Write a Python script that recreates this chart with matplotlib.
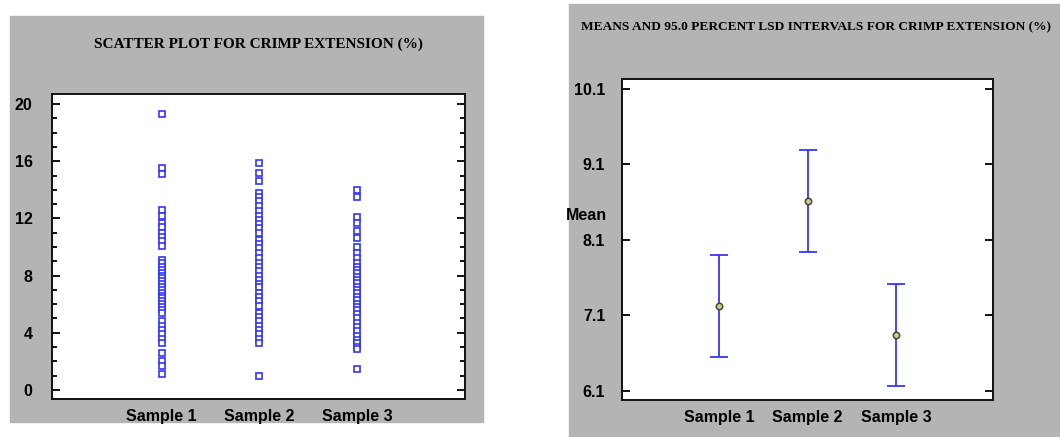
import matplotlib
matplotlib.use("Agg")
import matplotlib.pyplot as plt
from matplotlib.patches import Rectangle

# ------------------------------------------------------------------
# Data
# ------------------------------------------------------------------
SAMPLES = ["Sample 1", "Sample 2", "Sample 3"]

SAMPLE1 = [19.3, 15.5, 15.1, 12.6, 12.2, 11.7, 11.4, 11.0, 10.7, 10.4, 10.1,
           9.1, 8.9, 8.6, 8.4, 8.2, 8.0, 7.8, 7.6, 7.4, 7.2, 7.0, 6.8, 6.6,
           6.4, 6.2, 6.0, 5.8, 5.6, 5.4, 4.8, 4.5, 4.2, 3.9, 3.6, 3.3, 2.6,
           2.0, 1.7, 1.1]
SAMPLE2 = [15.9, 15.2, 14.6, 13.8, 13.5, 13.2, 12.9, 12.5, 12.2, 11.9, 11.6,
           11.3, 11.0, 10.5, 10.2, 9.9, 9.6, 9.2, 8.9, 8.6, 8.3, 8.0, 7.7,
           7.4, 7.2, 6.8, 6.5, 6.2, 5.9, 5.4, 5.1, 4.8, 4.5, 4.2, 3.9, 3.6,
           3.3, 1.0]
SAMPLE3 = [14.0, 13.5, 12.1, 11.7, 11.1, 10.6, 10.0, 9.6, 9.2, 8.9, 8.6, 8.4,
           8.2, 7.9, 7.7, 7.5, 7.2, 7.0, 6.8, 6.5, 6.3, 6.0, 5.8, 5.6, 5.3,
           5.0, 4.7, 4.4, 4.1, 3.8, 3.5, 3.3, 3.0, 2.9, 1.5]

MEANS = [7.22, 8.62, 6.84]
LSD_HALF = [0.675, 0.675, 0.68]

SCATTER_YTICKS = [0, 4, 8, 12, 16, 20]
MEAN_YTICKS = [6.1, 7.1, 8.1, 9.1, 10.1]

GRAY = "#b4b4b4"
BLUE = "#3535ff"
TICK_FONT = ["Liberation Sans Narrow", "Liberation Sans", "DejaVu Sans"]
TITLE_FONT = ["Liberation Serif", "DejaVu Serif"]

W, H = 1060, 437
fig = plt.figure(figsize=(W / 100, H / 100), dpi=100)
fig.patch.set_facecolor("white")


def px_box(x0, y0, x1, y1):
    """pixel box (top-left origin) -> figure fraction [l, b, w, h]"""
    return [x0 / W, (H - y1) / H, (x1 - x0) / W, (y1 - y0) / H]


# gray panels behind each chart
for box in (px_box(10, 16, 483, 422), px_box(569, 4, 1060, 437)):
    fig.patches.append(Rectangle((box[0], box[1]), box[2], box[3],
                                 transform=fig.transFigure, color=GRAY,
                                 zorder=-10))


def style_axes(ax):
    ax.set_zorder(5)
    for sp in ax.spines.values():
        sp.set_linewidth(1.4)
        sp.set_color("#111111")
    ax.tick_params(axis="y", which="both", direction="in", left=True,
                   right=True, width=1.3)
    ax.tick_params(axis="y", which="major", length=6)
    ax.tick_params(axis="y", which="minor", length=3.5)
    ax.tick_params(axis="x", length=0, pad=7)
    for lab in ax.get_xticklabels() + ax.get_yticklabels():
        lab.set_family(TICK_FONT)
        lab.set_fontweight("bold")
        lab.set_fontsize(11.5)


# ------------------------------------------------------------------
# Left: scatter plot
# ------------------------------------------------------------------
ax1 = fig.add_axes(px_box(52, 94, 465, 399))
for i, vals in enumerate([SAMPLE1, SAMPLE2, SAMPLE3]):
    ax1.plot([i + 1] * len(vals), vals, "s", linestyle="none",
             markersize=4.5, markerfacecolor="white", markeredgecolor=BLUE,
             markeredgewidth=1.2)
ax1.set_xlim(-0.12, 4.1)
ax1.set_ylim(-0.63, 20.7)
ax1.set_xticks([1, 2, 3])
ax1.set_xticklabels(SAMPLES)
ax1.set_yticks(SCATTER_YTICKS)
ax1.set_yticks(range(0, 21), minor=True)
ax1.tick_params(axis="y", pad=14)
style_axes(ax1)
fig.text(258 / W, 1 - 44 / H, "SCATTER PLOT FOR CRIMP EXTENSION (%)",
         ha="center", va="center", family=TITLE_FONT, fontweight="bold",
         fontsize=11)

# ------------------------------------------------------------------
# Right: means with LSD intervals
# ------------------------------------------------------------------
ax2 = fig.add_axes(px_box(622, 79, 993, 400))
ax2.errorbar([1, 2, 3], MEANS, yerr=LSD_HALF, fmt="none", ecolor=BLUE,
             elinewidth=1.3, capsize=6.5, capthick=1.3)
ax2.plot([1, 2, 3], MEANS, "o", linestyle="none", markersize=4.6,
         markerfacecolor="#c9c9a8", markeredgecolor="#4a4a20",
         markeredgewidth=1.1, zorder=3)
ax2.set_xlim(1 - 1.096, 3 + 1.096)
ax2.set_ylim(5.98, 10.23)
ax2.set_xticks([1, 2, 3])
ax2.set_xticklabels(SAMPLES)
ax2.set_yticks(MEAN_YTICKS)
ax2.set_yticklabels([f"{v:.1f}" for v in MEAN_YTICKS])
ax2.tick_params(axis="y", pad=12)
style_axes(ax2)
ax2.text(-0.04, 8.42, "Mean", transform=ax2.get_yaxis_transform(),
         ha="right", va="center", family=TICK_FONT, fontweight="bold",
         fontsize=11.5)
fig.text(816 / W, 1 - 27 / H,
         "MEANS AND 95.0 PERCENT LSD INTERVALS FOR CRIMP EXTENSION (%)",
         ha="center", va="center", family=TITLE_FONT, fontweight="bold",
         fontsize=9.6)

fig.savefig("out.png", dpi=100, facecolor="white")
